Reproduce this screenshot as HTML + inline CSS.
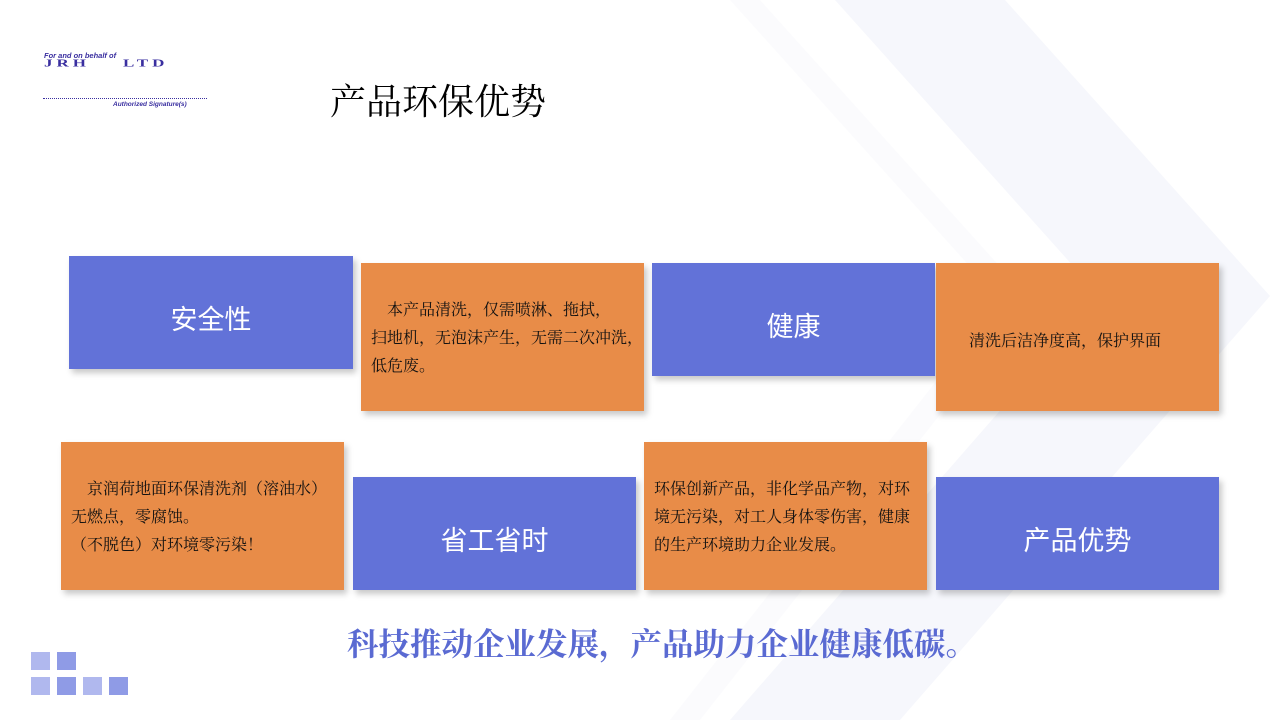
<!DOCTYPE html>
<html><head><meta charset="utf-8"><style>
body{margin:0;width:1280px;height:720px;background:#fff;position:relative;overflow:hidden;font-family:"Liberation Serif","Noto Serif CJK SC",serif}
.b{position:absolute;box-shadow:3px 4px 6px rgba(0,0,0,0.22)}
.blue{background:#6272d8;color:#fff;font-family:"Liberation Sans","Noto Sans CJK SC",sans-serif;font-size:27px;display:flex;align-items:center;justify-content:center;padding-top:10px;box-sizing:border-box}
.or{background:#e88c48;color:#111;font-size:16px;line-height:28px;white-space:nowrap;box-sizing:border-box;padding:4px 0 0 10px;display:flex;align-items:center}
.sq{position:absolute;width:19px;height:18px}
</style></head><body>
<svg width="1280" height="720" style="position:absolute;left:0;top:0">
<polygon points="835,0 1005,0 1270,296 900,720 730,720 1100,296" fill="#f6f7fc"/>
<polygon points="730,0 760,0 1030,300 700,720 670,720 1000,300" fill="#fbfbfd"/>
</svg>
<div style="position:absolute;left:44px;top:51px;color:#3a2fa0;font-style:italic;font-weight:bold;font-size:7.5px;font-family:'Liberation Sans',sans-serif">For and on behalf of</div>
<div style="position:absolute;left:44px;top:57px;color:#3a2fa0;font-weight:bold;font-size:17px;letter-spacing:4px;font-family:'Liberation Serif',serif;transform:scaleY(0.62);transform-origin:top left;white-space:nowrap">JRH&nbsp;&nbsp;&nbsp;&nbsp;LTD</div>
<div style="position:absolute;left:43px;top:98px;width:164px;border-top:1px dotted #3a2fa0"></div>
<div style="position:absolute;left:113px;top:101px;color:#3a2fa0;font-style:italic;font-weight:bold;font-size:6.5px;font-family:'Liberation Sans',sans-serif">Authorized Signature(s)</div>
<div style="position:absolute;left:330px;top:74px;font-size:36px;color:#000">产品环保优势</div>

<div class="b blue" style="left:69px;top:256px;width:284px;height:113px">安全性</div>
<div class="b or" style="left:361px;top:263px;width:283px;height:148px"><div>　本产品清洗，仅需喷淋、拖拭，<br>扫地机，无泡沫产生，无需二次冲洗，<br>低危废。</div></div>
<div class="b blue" style="left:652px;top:263px;width:283px;height:113px">健康</div>
<div class="b or" style="left:936px;top:263px;width:283px;height:148px;padding-left:33px;padding-top:10px"><div>清洗后洁净度高，保护界面</div></div>
<div class="b or" style="left:61px;top:442px;width:283px;height:148px"><div>　京润荷地面环保清洗剂（溶油水）<br>无燃点，零腐蚀。<br>（不脱色）对环境零污染！</div></div>
<div class="b blue" style="left:353px;top:477px;width:283px;height:113px">省工省时</div>
<div class="b or" style="left:644px;top:442px;width:283px;height:148px"><div>环保创新产品，非化学品产物，对环<br>境无污染，对工人身体零伤害，健康<br>的生产环境助力企业发展。</div></div>
<div class="b blue" style="left:936px;top:477px;width:283px;height:113px">产品优势</div>

<div style="position:absolute;left:0;width:1324px;text-align:center;top:620px;font-size:31.5px;font-weight:bold;color:#5a6ad2">科技推动企业发展，产品助力企业健康低碳。</div>

<div class="sq" style="left:31px;top:652px;background:#b0b8ee"></div>
<div class="sq" style="left:57px;top:652px;background:#8f9be6"></div>
<div class="sq" style="left:31px;top:677px;background:#b0b8ee"></div>
<div class="sq" style="left:57px;top:677px;background:#8f9be6"></div>
<div class="sq" style="left:83px;top:677px;background:#b0b8ee"></div>
<div class="sq" style="left:109px;top:677px;background:#8f9be6"></div>
</body></html>
